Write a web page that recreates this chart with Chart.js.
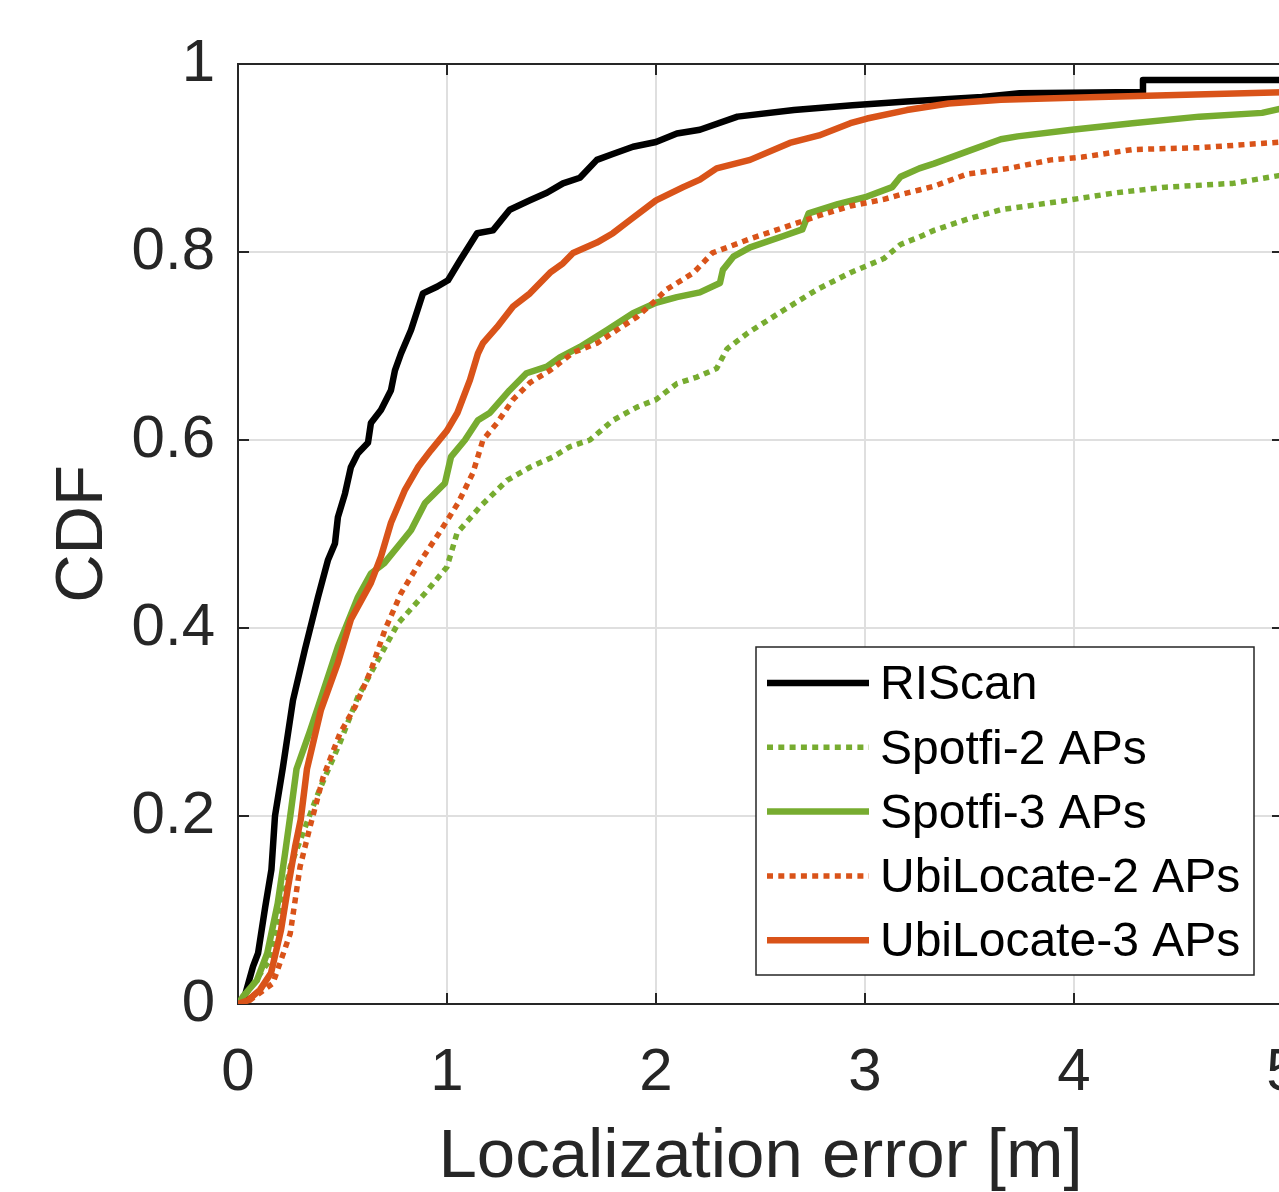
<!DOCTYPE html>
<html>
<head>
<meta charset="utf-8">
<title>Localization error CDF</title>
<script src="https://cdn.jsdelivr.net/npm/chart.js@4.4.1/dist/chart.umd.min.js"></script>
<style>
  html, body { margin: 0; padding: 0; background: #fff; overflow: hidden; }
  #wrap { width: 1320px; height: 1192px; }
</style>
</head>
<body>
<div id="wrap"><canvas id="cdfChart" width="1320" height="1192"></canvas></div>
<script>
// axis ticks
const xTicks = [0, 1, 2, 3, 4, 5];
const yTicks = [0, 0.2, 0.4, 0.6, 0.8, 1];

// series labels (legend order)
const seriesNames = ['RIScan', 'Spotfi-2 APs', 'Spotfi-3 APs', 'UbiLocate-2 APs', 'UbiLocate-3 APs'];

// [error (m), CDF] points
const riscan = [
  [0, 0], [0.032, 0.008], [0.072, 0.04], [0.096, 0.054], [0.13, 0.103], [0.16, 0.143], [0.177, 0.2],
  [0.215, 0.252], [0.263, 0.323], [0.32, 0.377], [0.383, 0.433], [0.43, 0.472], [0.464, 0.49],
  [0.478, 0.518], [0.512, 0.543], [0.54, 0.571], [0.574, 0.586], [0.622, 0.597], [0.636, 0.618],
  [0.684, 0.632], [0.732, 0.653], [0.751, 0.674], [0.78, 0.692], [0.828, 0.717], [0.885, 0.756],
  [0.952, 0.763], [1.005, 0.77], [1.062, 0.791], [1.144, 0.82], [1.22, 0.823], [1.3, 0.845],
  [1.397, 0.855], [1.478, 0.863], [1.555, 0.873], [1.636, 0.879], [1.717, 0.898], [1.79, 0.904],
  [1.89, 0.912], [2.0, 0.917], [2.1, 0.926], [2.21, 0.93], [2.39, 0.944], [2.66, 0.951],
  [2.94, 0.956], [3.2, 0.96], [3.56, 0.965], [3.74, 0.969],
  [4.2, 0.97], [4.33, 0.97], [4.33, 0.983], [5.0, 0.983]
];

const spotfi2 = [
  [0, 0], [0.043, 0.012], [0.153, 0.047], [0.2, 0.093], [0.25, 0.146], [0.311, 0.182], [0.39, 0.228],
  [0.488, 0.278], [0.574, 0.327], [0.67, 0.366], [0.766, 0.405], [0.895, 0.437], [1.0, 0.465],
  [1.048, 0.501], [1.158, 0.529], [1.287, 0.557], [1.397, 0.571], [1.507, 0.582], [1.589, 0.593],
  [1.684, 0.6], [1.794, 0.621], [1.909, 0.635], [2.0, 0.643], [2.1, 0.66], [2.196, 0.667],
  [2.29, 0.676], [2.34, 0.697], [2.44, 0.714], [2.61, 0.738], [2.77, 0.76], [2.93, 0.778],
  [3.09, 0.793], [3.17, 0.808], [3.26, 0.816], [3.33, 0.823], [3.49, 0.835], [3.65, 0.845],
  [3.97, 0.855], [4.2, 0.863], [4.44, 0.869], [4.76, 0.873], [5.0, 0.882]
];

const spotfi3 = [
  [0, 0], [0.024, 0.008], [0.09, 0.025], [0.14, 0.054], [0.19, 0.107], [0.225, 0.16], [0.25, 0.2],
  [0.28, 0.25], [0.344, 0.29],
  [0.383, 0.316], [0.478, 0.38], [0.574, 0.433], [0.636, 0.458], [0.7, 0.469], [0.766, 0.487],
  [0.828, 0.504], [0.895, 0.533], [0.99, 0.554], [1.019, 0.582], [1.086, 0.6], [1.148, 0.621],
  [1.206, 0.629], [1.3, 0.653], [1.38, 0.671], [1.478, 0.678], [1.54, 0.688], [1.636, 0.699],
  [1.766, 0.717], [1.89, 0.735], [2.0, 0.746], [2.1, 0.752], [2.21, 0.757], [2.306, 0.767],
  [2.32, 0.781], [2.37, 0.795], [2.45, 0.805], [2.61, 0.817], [2.7, 0.824], [2.73, 0.841],
  [2.87, 0.851], [3.01, 0.859], [3.13, 0.869], [3.17, 0.88], [3.26, 0.889], [3.33, 0.894],
  [3.49, 0.907], [3.65, 0.92], [3.73, 0.923], [3.99, 0.93], [4.28, 0.937], [4.6, 0.944], [4.9, 0.948], [5.0, 0.953]
];

const ubi2 = [
  [0, 0], [0.057, 0.004], [0.167, 0.022], [0.25, 0.075], [0.297, 0.146], [0.344, 0.188],
  [0.407, 0.241], [0.488, 0.288], [0.56, 0.316], [0.636, 0.355], [0.703, 0.398], [0.78, 0.437],
  [0.876, 0.472], [0.971, 0.504], [1.053, 0.533], [1.124, 0.565], [1.172, 0.6], [1.239, 0.618],
  [1.316, 0.643], [1.397, 0.661], [1.493, 0.674], [1.603, 0.693], [1.718, 0.703], [1.813, 0.717],
  [1.909, 0.731], [2.0, 0.749], [2.05, 0.76], [2.18, 0.778], [2.27, 0.799], [2.45, 0.814],
  [2.61, 0.826], [2.77, 0.838], [2.93, 0.849], [3.09, 0.856], [3.17, 0.861], [3.26, 0.866],
  [3.33, 0.87], [3.49, 0.883], [3.69, 0.889], [3.89, 0.898], [4.04, 0.901], [4.28, 0.909],
  [4.6, 0.911], [5.0, 0.917]
];

const ubi3 = [
  [0, 0], [0.048, 0.004], [0.105, 0.015], [0.158, 0.033], [0.206, 0.079], [0.239, 0.124],
  [0.273, 0.167], [0.3, 0.196], [0.33, 0.25], [0.397, 0.313],
  [0.478, 0.363], [0.54, 0.409], [0.636, 0.448], [0.684, 0.476], [0.732, 0.512], [0.799, 0.547],
  [0.861, 0.571], [0.923, 0.589], [1.0, 0.61], [1.05, 0.629], [1.11, 0.664], [1.148, 0.692],
  [1.172, 0.703], [1.239, 0.72], [1.316, 0.742], [1.397, 0.756], [1.493, 0.778], [1.555, 0.788],
  [1.603, 0.799], [1.717, 0.81], [1.794, 0.82], [1.876, 0.834], [2.0, 0.855], [2.13, 0.869],
  [2.21, 0.877], [2.29, 0.889], [2.45, 0.898], [2.64, 0.916], [2.78, 0.924], [2.93, 0.937],
  [3.01, 0.942], [3.2, 0.951], [3.4, 0.958], [3.65, 0.962], [4.12, 0.965], [5.0, 0.97]
];

// MATLAB-ish colours
const BLACK = '#000000';
const GREEN = '#77AC30';
const ORANGE = '#D95319';
const AXIS_COLOR = '#262626';
const FONT = '"Liberation Sans", Arial, Helvetica, sans-serif';

const toPoints = arr => arr.map(p => ({ x: p[0], y: p[1] }));

function makeSet(label, points, color, dotted, order) {
  return {
    label: label,
    data: toPoints(points),
    borderColor: color,
    backgroundColor: color,
    borderWidth: dotted ? 5.5 : 6.5,
    borderDash: dotted ? [6, 5.3] : [],
    borderCapStyle: 'butt',
    borderJoinStyle: 'round',
    showLine: true,
    pointRadius: 0,
    tension: 0,
    fill: false,
    order: order
  };
}

// box + inward tick marks (drawn under the data like MATLAB)
const axesBox = {
  id: 'axesBox',
  beforeDatasetsDraw(chart) {
    const { ctx, chartArea: a, scales: { x, y } } = chart;
    const len = 11;
    ctx.save();
    ctx.strokeStyle = AXIS_COLOR;
    ctx.lineWidth = 2;
    ctx.strokeRect(a.left, a.top, a.right - a.left, a.bottom - a.top);
    ctx.beginPath();
    xTicks.forEach(v => {
      const px = x.getPixelForValue(v);
      ctx.moveTo(px, a.bottom); ctx.lineTo(px, a.bottom - len);
      ctx.moveTo(px, a.top); ctx.lineTo(px, a.top + len);
    });
    yTicks.forEach(v => {
      const py = y.getPixelForValue(v);
      ctx.moveTo(a.left, py); ctx.lineTo(a.left + len, py);
      ctx.moveTo(a.right, py); ctx.lineTo(a.right - len, py);
    });
    ctx.stroke();
    ctx.restore();
  }
};

// boxed legend in the lower right corner
const boxLegend = {
  id: 'boxLegend',
  afterDraw(chart) {
    const { ctx } = chart;
    const left = 756, top = 647, w = 498, h = 328;
    ctx.save();
    ctx.fillStyle = '#ffffff';
    ctx.fillRect(left, top, w, h);
    ctx.strokeStyle = AXIS_COLOR;
    ctx.lineWidth = 1.5;
    ctx.strokeRect(left, top, w, h);
    chart.data.datasets.forEach((ds, i) => {
      const yy = top + 36 + i * 64.3;
      ctx.beginPath();
      ctx.setLineDash(ds.borderDash);
      ctx.lineCap = 'butt';
      ctx.strokeStyle = ds.borderColor;
      ctx.lineWidth = ds.borderWidth;
      ctx.moveTo(left + 11, yy);
      ctx.lineTo(left + 113, yy);
      ctx.stroke();
      ctx.setLineDash([]);
      ctx.fillStyle = '#000000';
      ctx.font = '48px ' + FONT;
      ctx.textAlign = 'left';
      ctx.textBaseline = 'middle';
      ctx.fillText(ds.label, left + 124, yy + 3);
    });
    ctx.restore();
  }
};

const ctx = document.getElementById('cdfChart').getContext('2d');
new Chart(ctx, {
  type: 'scatter',
  data: {
    datasets: [
      makeSet(seriesNames[0], riscan, BLACK, false, 5),
      makeSet(seriesNames[1], spotfi2, GREEN, true, 4),
      makeSet(seriesNames[2], spotfi3, GREEN, false, 3),
      makeSet(seriesNames[3], ubi2, ORANGE, true, 2),
      makeSet(seriesNames[4], ubi3, ORANGE, false, 1)
    ]
  },
  options: {
    responsive: false,
    animation: false,
    devicePixelRatio: 1,
    layout: {
      padding: { top: 64, right: 37, left: 0, bottom: 0 }
    },
    plugins: {
      legend: { display: false },
      tooltip: { enabled: false }
    },
    scales: {
      x: {
        type: 'linear',
        min: 0,
        max: 5,
        // fixed axis height; drop the label overhang padding so the plot keeps its width
        afterFit: s => { s.height = 188; s.paddingLeft = 0; s.paddingRight = 0; },
        afterBuildTicks: s => { s.ticks = xTicks.map(v => ({ value: v })); },
        grid: { color: '#dfdfdf', lineWidth: 2, drawTicks: false },
        border: { display: false },
        ticks: {
          color: AXIS_COLOR,
          padding: 33,
          maxRotation: 0,
          autoSkip: false,
          font: { family: FONT, size: 60 },
          callback: v => String(v)
        },
        title: {
          display: true,
          text: 'Localization error [m]',
          color: AXIS_COLOR,
          font: { family: FONT, size: 69, lineHeight: 1 },
          padding: { top: 0, bottom: 0 }
        }
      },
      y: {
        type: 'linear',
        min: 0,
        max: 1,
        afterFit: s => { s.width = 238; },
        afterBuildTicks: s => { s.ticks = yTicks.map(v => ({ value: v })); },
        grid: { color: '#dfdfdf', lineWidth: 2, drawTicks: false },
        border: { display: false },
        ticks: {
          color: AXIS_COLOR,
          padding: 23,
          autoSkip: false,
          font: { family: FONT, size: 60 },
          callback: v => String(Number(v.toFixed(1)))
        },
        title: {
          display: true,
          text: 'CDF',
          color: AXIS_COLOR,
          font: { family: FONT, size: 67, lineHeight: 1 },
          padding: { top: 50, bottom: 0 }
        }
      }
    }
  },
  plugins: [axesBox, boxLegend]
});
</script>
</body>
</html>
